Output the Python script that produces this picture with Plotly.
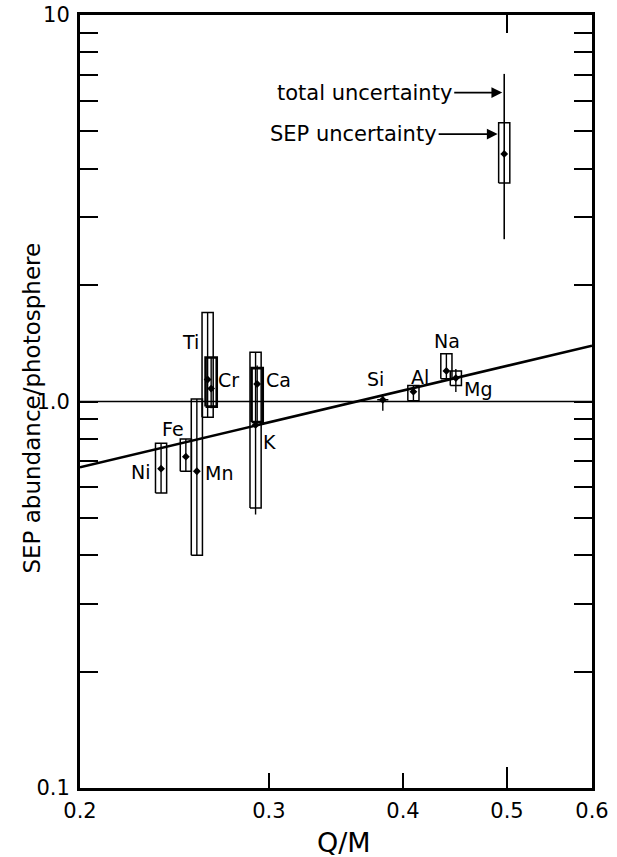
import math
import plotly.graph_objects as go

# SEP abundance relative to the photosphere, by element
elements = ["Ni", "Fe", "Mn", "Ti", "Cr", "Ca", "K", "Si", "Al", "Na", "Mg"]
q_over_m = [0.238, 0.251, 0.257, 0.263, 0.265, 0.2925, 0.2915, 0.383, 0.409, 0.439, 0.448]
ratio = [0.67, 0.72, 0.66, 1.14, 1.08, 1.11, 0.87, 1.01, 1.06, 1.20, 1.15]
sep_low = [0.58, 0.66, 0.40, 0.91, 0.97, 0.885, 0.53, 1.01, 1.005, 1.145, 1.10]
sep_high = [0.78, 0.80, 1.015, 1.70, 1.30, 1.22, 1.34, 1.01, 1.10, 1.33, 1.20]
total_low = [0.58, 0.66, 0.40, 0.91, 0.96, 0.88, 0.51, 0.947, 1.005, 1.145, 1.058]
total_high = [0.78, 0.80, 1.015, 1.70, 1.30, 1.24, 1.34, 1.046, 1.10, 1.33, 1.214]

# key symbol explaining the two kinds of uncertainty
key_q = 0.497
key_ratio = 4.37
key_sep = [3.675, 5.26]
key_total = [2.63, 7.04]
key_total_arrow_y = 6.3
key_sep_arrow_y = 4.92

# power-law fit and unity reference
fit_q = [0.2, 0.6]
fit_ratio = [0.676, 1.394]
unity_q = [0.2, 0.6]
unity_ratio = [1.0, 1.0]

x_ticks = [0.2, 0.3, 0.4, 0.5, 0.6]
x_tick_text = ["0.2", "0.3", "0.4", "0.5", "0.6"]
y_major = [0.1, 0.5, 1, 5, 10]
y_major_text = ["0.1", "", "1.0", "", "10"]
y_minor = [0.2, 0.3, 0.4, 0.6, 0.7, 0.8, 0.9, 2, 3, 4, 6, 7, 8, 9]

FONT = "DejaVu Sans"
HALF = 10 ** 0.0052          # half box width as a factor on the log axis
bold_boxes = {"Cr", "Ca"}
label_shift = {
    "Ni": (-20, -3), "Fe": (-13, 28), "Mn": (22, -2), "Ti": (-17, 38),
    "Cr": (17, 9), "Ca": (21, 4), "K": (14, -17), "Si": (-7, 21),
    "Al": (7, 15), "Na": (1, 30), "Mg": (22, -11),
}


def box_path(qs, lows, highs):
    xs, ys = [], []
    for q, lo, hi in zip(qs, lows, highs):
        xs += [q / HALF, q / HALF, q * HALF, q * HALF, q / HALF, None]
        ys += [lo, hi, hi, lo, lo, None]
    return xs, ys


def bar_path(qs, lows, highs):
    xs, ys = [], []
    for q, lo, hi in zip(qs, lows, highs):
        xs += [q, q, None]
        ys += [lo, hi, None]
    return xs, ys


fig = go.Figure()

fig.add_trace(go.Scatter(x=unity_q, y=unity_ratio, mode="lines",
                         line=dict(color="black", width=1.6), hoverinfo="skip"))
fig.add_trace(go.Scatter(x=fit_q, y=fit_ratio, mode="lines",
                         line=dict(color="black", width=2.6), hoverinfo="skip"))

thin = [i for i, e in enumerate(elements) if e not in bold_boxes]
bold = [i for i, e in enumerate(elements) if e in bold_boxes]
for idx, w in ((thin, 1.5), (bold, 2.6)):
    bx, by = box_path([q_over_m[i] for i in idx], [sep_low[i] for i in idx],
                      [sep_high[i] for i in idx])
    fig.add_trace(go.Scatter(x=bx, y=by, mode="lines",
                             line=dict(color="black", width=w), hoverinfo="skip"))

tx, ty = bar_path(q_over_m, total_low, total_high)
fig.add_trace(go.Scatter(x=tx, y=ty, mode="lines",
                         line=dict(color="black", width=1.4), hoverinfo="skip"))

fig.add_trace(go.Scatter(x=q_over_m, y=ratio, mode="markers",
                         marker=dict(symbol="diamond", size=6, color="black"),
                         text=elements, hoverinfo="text"))

# key symbol
kx, ky = box_path([key_q], [key_sep[0]], [key_sep[1]])
fig.add_trace(go.Scatter(x=kx, y=ky, mode="lines",
                         line=dict(color="black", width=1.5), hoverinfo="skip"))
kbx, kby = bar_path([key_q], [key_total[0]], [key_total[1]])
fig.add_trace(go.Scatter(x=kbx, y=kby, mode="lines",
                         line=dict(color="black", width=1.6), hoverinfo="skip"))
fig.add_trace(go.Scatter(x=[key_q], y=[key_ratio], mode="markers",
                         marker=dict(symbol="diamond", size=6, color="black"),
                         hoverinfo="skip"))

# extra tick-only axes (top tick and the longer bottom tick at 0.5)
fig.add_trace(go.Scatter(x=[], y=[], xaxis="x2", showlegend=False))
fig.add_trace(go.Scatter(x=[], y=[], xaxis="x3", showlegend=False))

annotations = []
for e, q, r in zip(elements, q_over_m, ratio):
    dx, dy = label_shift[e]
    annotations.append(dict(x=math.log10(q), y=math.log10(r), xref="x", yref="y",
                            text=e, showarrow=False, xshift=dx, yshift=dy,
                            font=dict(family=FONT, size=19, color="black")))

annotations.append(dict(x=math.log10(key_q), y=math.log10(key_total_arrow_y),
                        xref="x", yref="y", text="total uncertainty",
                        showarrow=True, ax=-50, ay=0, xanchor="right",
                        arrowhead=2, arrowsize=1.2, arrowwidth=1.8, standoff=2,
                        arrowcolor="black",
                        font=dict(family=FONT, size=21, color="black")))
annotations.append(dict(x=math.log10(key_q / HALF), y=math.log10(key_sep_arrow_y),
                        xref="x", yref="y", text="SEP uncertainty",
                        showarrow=True, ax=-60, ay=0, xanchor="right",
                        arrowhead=2, arrowsize=1.2, arrowwidth=1.8, standoff=1,
                        arrowcolor="black",
                        font=dict(family=FONT, size=21, color="black")))

annotations.append(dict(x=-0.094, y=0.492, xref="paper", yref="paper",
                        text="SEP abundance/photosphere", textangle=-90,
                        showarrow=False, xanchor="center", yanchor="middle",
                        font=dict(family=FONT, size=23, color="black")))
annotations.append(dict(x=0.516, y=-0.071, xref="paper", yref="paper",
                        text="Q/M", showarrow=False, xanchor="center", yanchor="middle",
                        font=dict(family=FONT, size=27, color="black")))

xr = [math.log10(0.2), math.log10(0.6)]
fig.update_layout(
    width=617, height=857,
    margin=dict(l=80, r=25, t=15, b=69),
    paper_bgcolor="white", plot_bgcolor="white",
    showlegend=False,
    font=dict(family=FONT, color="black"),
    annotations=annotations,
    xaxis=dict(type="log", range=xr, tickmode="array", tickvals=x_ticks,
               ticktext=x_tick_text, ticks="inside", ticklen=15, tickwidth=2,
               tickcolor="black", showline=True, linewidth=3, linecolor="black",
               mirror=True, showgrid=False, zeroline=False, automargin=False,
               tickfont=dict(family=FONT, size=21, color="black"),
               ticklabelstandoff=2),
    xaxis2=dict(type="log", range=xr, overlaying="x", side="top", anchor="y",
                tickmode="array", tickvals=[0.5], ticks="inside", ticklen=18,
                tickwidth=2, tickcolor="black", showticklabels=False,
                showline=False, showgrid=False, zeroline=False, automargin=False),
    xaxis3=dict(type="log", range=xr, overlaying="x", side="bottom", anchor="y",
                tickmode="array", tickvals=[0.5], ticks="inside", ticklen=21,
                tickwidth=2, tickcolor="black", showticklabels=False,
                showline=False, showgrid=False, zeroline=False, automargin=False),
    yaxis=dict(type="log", range=[-1, 1], tickmode="array", tickvals=y_major,
               ticktext=y_major_text, ticks="inside", ticklen=18, tickwidth=2,
               tickcolor="black", showline=True, linewidth=3, linecolor="black",
               mirror="allticks", showgrid=False, zeroline=False, automargin=False,
               tickfont=dict(family=FONT, size=21, color="black"),
               ticklabelstandoff=3,
               minor=dict(tickmode="array", tickvals=y_minor, ticks="inside",
                          ticklen=12, tickwidth=2, tickcolor="black",
                          showgrid=False)),
)

fig.write_html("out.html")
